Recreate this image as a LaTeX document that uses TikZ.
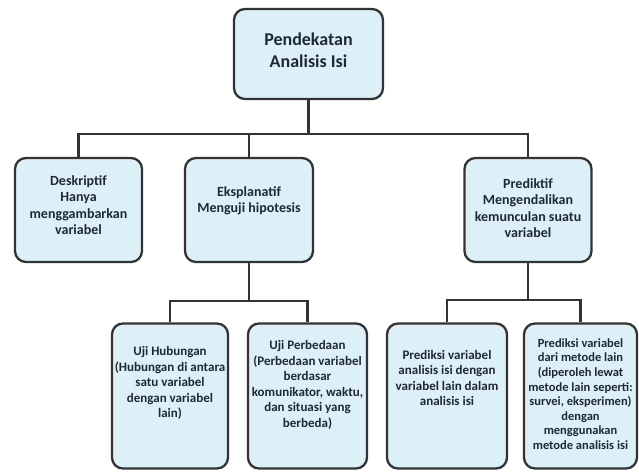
\documentclass[tikz,border=0pt]{standalone}
\usepackage{fontspec}
\setmainfont{Carlito}

\definecolor{boxfill}{HTML}{DDF0F8}
\definecolor{boxline}{HTML}{333333}
\definecolor{boxtext}{HTML}{1E2A33}

\tikzset{
  box/.style={draw=boxline, fill=boxfill, line width=2.3pt, rounded corners=11pt},
  link/.style={draw=boxline, line width=2.3pt},
  txt/.style={align=center, text=boxtext, inner sep=0pt},
  txtA/.style={txt, font=\fontsize{18}{22}\selectfont\bfseries},
  txtB/.style={txt, font=\fontsize{14}{16.5}\selectfont\bfseries},
  txtC/.style={txt, font=\fontsize{13}{15.5}\selectfont\bfseries},
  txtD/.style={txt, font=\fontsize{12.5}{14.6}\selectfont\bfseries},
}

\begin{document}
\begin{tikzpicture}[x=1pt, y=-1pt]
                \useasboundingbox (0,0) rectangle (639,471);

                % boxes
                \node [box, minimum width=149pt, minimum height=90pt] (top) at (308.5, 54) {};

                \node [box, minimum width=127pt, minimum height=104pt] (desk) at (78.5, 210) {};
                \node [box, minimum width=128pt, minimum height=104pt] (eksp) at (249, 210) {};
                \node [box, minimum width=127pt, minimum height=104pt] (pred) at (528, 210) {};

                \node [box, minimum width=116pt, minimum height=145pt] (hub) at (170, 396) {};
                \node [box, minimum width=119pt, minimum height=145pt] (beda) at (307.5, 396) {};
                \node [box, minimum width=120pt, minimum height=145pt] (pvar) at (447, 396) {};
                \node [box, minimum width=113pt, minimum height=145pt] (pmet) at (580.5, 396) {};

                % texts
                \node [txtA] (ttop) at (308.5, 50) {Pendekatan\\Analisis Isi};

                \node [txtB] (tdesk) at (78.5, 205) {Deskriptif\\Hanya\\menggambarkan\\variabel};
                \node [txtB] (teksp) at (249, 201) {Eksplanatif\\Menguji hipotesis};
                \node [txtB] (tpred) at (528, 208) {Prediktif\\Mengendalikan\\kemunculan suatu\\variabel};

                \node [txtC] (thub) at (170, 383) {Uji Hubungan\\(Hubungan di antara\\satu variabel\\dengan variabel\\lain)};
                \node [txtC] (tbeda) at (307.5, 385) {Uji Perbedaan\\(Perbedaan variabel\\berdasar\\komunikator, waktu,\\dan situasi yang\\berbeda)};
                \node [txtC] (tpvar) at (447, 378) {Prediksi variabel\\analisis isi dengan\\variabel lain dalam\\analisis isi};
                \node [txtD] (tpmet) at (580.5, 394) {Prediksi variabel\\dari metode lain\\(diperoleh lewat\\metode lain seperti:\\survei, eksperimen)\\dengan\\menggunakan\\metode analisis isi};

                % connectors
                \coordinate (bus) at (308.5, 134);
                \coordinate (busE) at (249, 301);
                \coordinate (busP) at (528, 300);

                \draw [link] (top.south) -- (bus);
                \draw [link] (desk.north) |- (bus) -| (pred.north);
                \draw [link] (eksp.north) -- (eksp.north |- bus);

                \draw [link] (eksp.south) -- (busE);
                \draw [link] (hub.north) |- (busE) -| (beda.north);

                \draw [link] (pred.south) -- (busP);
                \draw [link] (pvar.north) |- (busP) -| (pmet.north);
            \end{tikzpicture}
\end{document}
